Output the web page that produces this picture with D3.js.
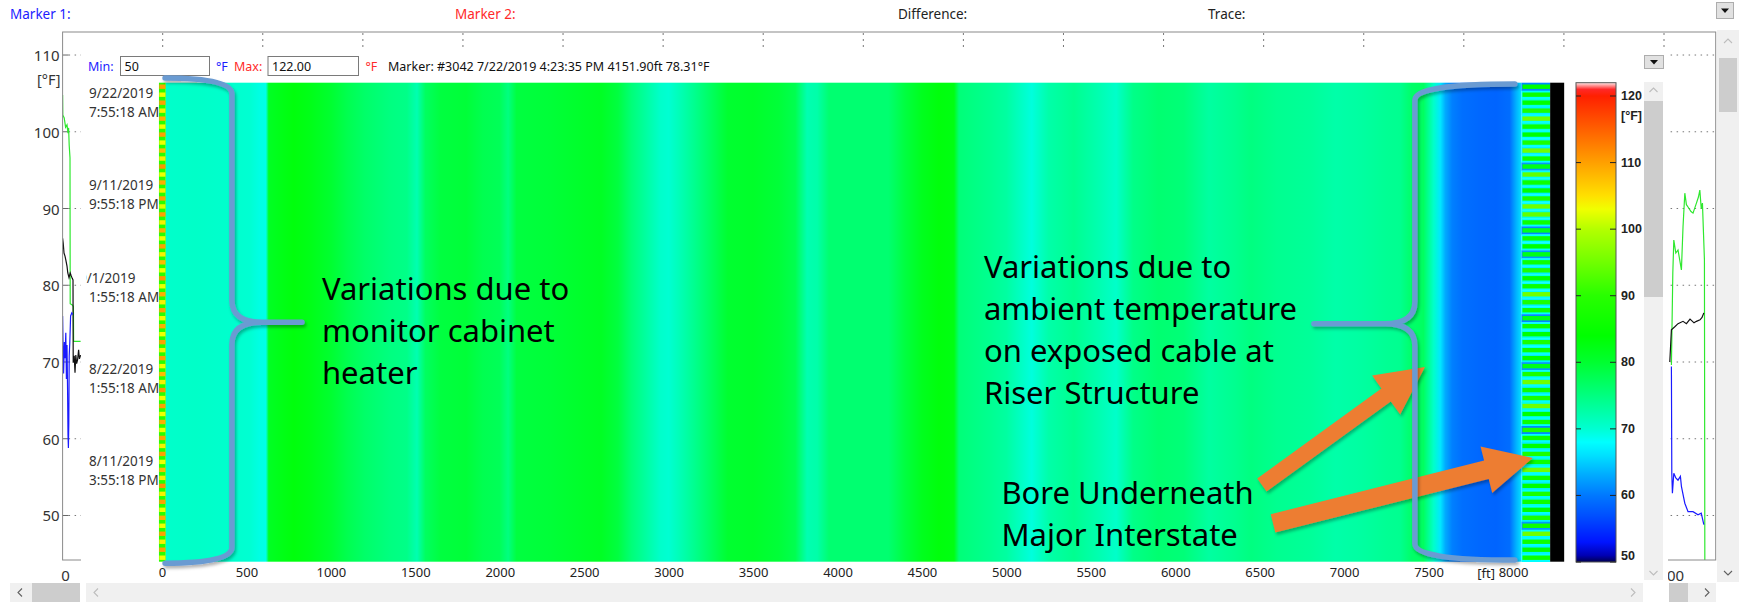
<!DOCTYPE html>
<html>
<head>
<meta charset="utf-8">
<title>Temperature map</title>
<script src="https://cdnjs.cloudflare.com/ajax/libs/d3/7.8.5/d3.min.js"></script>
<style>
    html, body { margin: 0; padding: 0; background: #ffffff; overflow: hidden; }
    svg { display: block; }
</style>
</head>
<body>
<svg id="view" width="1739" height="603"></svg>
<script>

// Colour map (deg F -> colour), same for heat map and colour bar
var cmap_temps = [ 49.5, 51, 53, 57, 60, 63, 66, 68, 70, 75, 80, 84, 90, 95, 100, 103, 105, 110, 115, 120, 121, 122 ];
var cmap_colors = [ '#000050', '#0000b4', '#0014ff', '#0050ff', '#0078ff', '#00aaff', '#00e0ff', '#00ffff', '#00ffd2',
    '#00ff80', '#00ff30', '#00ff00', '#28ff00', '#70ff00', '#b4ff00', '#f0ff00', '#ffe000', '#ffa000', '#ff6000',
    '#ff2000', '#ff2828', '#ffe8e8' ];
var colorbar_ticks = [ 50, 60, 70, 80, 90, 100, 110, 120 ];

// Heat map: temperature along the cable (ft -> deg F)
var profile_ft = [ 20, 200, 400, 520, 580, 615, 632, 700, 780, 880, 1000, 1100, 1200, 1350, 1450, 1510, 1560,
    1650, 1800, 1900, 2000, 2050, 2100, 2300, 2500, 2600, 2700, 2780, 2850, 2950, 3000, 3060, 3150, 3250, 3350,
    3500, 3650, 3750, 3820, 3880, 3950, 4100, 4300, 4400, 4500, 4600, 4690, 4720, 4780, 4900, 5000, 5150, 5250,
    5400, 5550, 5650, 5750, 5900, 6050, 6200, 6350, 6450, 6600, 6800, 6950, 7100, 7250, 7330, 7400, 7470, 7530,
    7570, 7600, 7640, 7700, 7800, 7900, 7980, 8020, 8050 ];
var profile_temp = [ 70.4, 70.6, 70.3, 70, 69.2, 69, 81, 82, 83, 82, 80, 78, 76.5, 75, 74.5, 72, 77,
    79, 79.5, 78, 77.5, 75, 79, 79.5, 80.5, 81, 79, 75.5, 73.5, 70.5, 70, 71.5, 74, 77, 80,
    80.5, 79.5, 78, 72, 72.5, 76, 76, 76, 79, 81.5, 83, 82.5, 75.5, 75, 74, 73, 69.5, 72.5,
    74, 72, 70.5, 74.5, 76, 75.5, 73, 74, 75, 74, 73.5, 72.5, 73, 73.8, 74, 76.5, 77, 70.5,
    66.5, 63, 60.5, 59.3, 58.8, 58.5, 59.2, 63.5, 66 ];

// Lead-in section at the start of the cable, one value per time row
var lead_base = 90;
var lead_stripe = [ 110, 103, 110, 104, 109, 103, 110, 103, 108, 104,
    111, 103, 109, 104, 110, 102, 110, 104, 109, 103,
    110, 104, 108, 103, 111, 103, 109, 104, 110, 103,
    109, 103, 110, 104, 110, 103, 108, 104, 111, 103,
    110, 103, 109, 103, 110, 104, 110, 103, 108, 104,
    111, 104, 110, 103, 109, 103, 110, 104, 110, 103 ];

// Bore section at the end of the cable, one value per time row
var bore_stripe = [ 84, 86, 84, 88, 95, 86, 84, 88, 95, 86,
    82, 94, 86, 84, 88, 95, 94, 86, 82, 86,
    84, 82, 86, 88, 84, 86, 95, 88, 86, 82,
    86, 84, 88, 86, 84, 82, 88, 95, 86, 88,
    95, 84, 86, 88, 86, 84, 88, 86, 95, 86,
    84, 88, 86, 84, 88, 86, 95, 86, 84, 86 ];
var bore_gap = [ 61, 68, 69, 67, 68, 69, 68, 68, 67, 68,
    62, 68, 69, 67, 68, 68, 69, 68, 61, 68,
    68, 62, 68, 67, 69, 68, 68, 67, 68, 61,
    68, 69, 68, 68, 67, 62, 68, 68, 67, 68,
    69, 68, 68, 61, 68, 67, 68, 69, 68, 68,
    67, 68, 69, 68, 67, 62, 68, 68, 67, 68 ];

var distance_ticks = [ 0, 500, 1000, 1500, 2000, 2500, 3000, 3500, 4000, 4500, 5000, 5500, 6000, 6500, 7000, 7500, 8000 ];
var time_dates = [ '9/22/2019', '9/11/2019', '9/1/2019', '8/22/2019', '8/11/2019' ];
var time_clock = [ '7:55:18 AM', '9:55:18 PM', '1:55:18 AM', '1:55:18 AM', '3:55:18 PM' ];
var time_rows = [ 2.44, 14.0, 25.6, 37.1, 48.6 ];

// Trace chart behind the map (ft -> deg F)
var trace_ticks = [ 50, 60, 70, 80, 90, 100, 110 ];
var green_left = [ [ 0, 104.8 ], [ 1, 102.2 ], [ 8, 101.8 ], [ 15, 100.6 ], [ 22, 100.9 ], [ 27, 99.8 ], [ 30, 100.5 ],
    [ 33, 98.2 ], [ 37, 96.6 ], [ 38, 77.6 ], [ 50, 77.4 ], [ 54, 77.2 ], [ 55, 72.7 ], [ 90, 72.7 ] ];
var black_left = [ [ 0, 86.1 ], [ 3, 85.5 ], [ 7, 84.2 ], [ 12, 83.8 ], [ 16, 83.3 ], [ 22, 82.5 ], [ 26, 81.6 ],
    [ 32, 81 ], [ 38, 81.6 ], [ 42, 81.3 ], [ 48, 80.9 ], [ 52, 80.7 ], [ 53, 69.9 ], [ 58, 70.8 ], [ 62, 68.6 ],
    [ 66, 70.9 ], [ 70, 69.8 ], [ 75, 70.3 ], [ 80, 71.6 ], [ 84, 70.4 ], [ 90, 70.9 ] ];
var blue_left = [ [ 0, 76 ], [ 2, 72.5 ], [ 5, 68.5 ], [ 9, 72.6 ], [ 12, 70.5 ], [ 16, 73.8 ], [ 19, 67.8 ],
    [ 22, 72.2 ], [ 25, 66 ], [ 27, 60.5 ], [ 29, 58.8 ], [ 31, 62 ], [ 33, 70.8 ], [ 36, 72.5 ], [ 40, 76 ],
    [ 46, 76.4 ], [ 50, 76.2 ] ];
var green_right = [ [ 8037, 69.6 ], [ 8039, 72.9 ], [ 8044, 81.6 ], [ 8049, 85.9 ], [ 8059, 84.2 ], [ 8070, 84.6 ],
    [ 8087, 82 ], [ 8095, 87.6 ], [ 8104, 92 ], [ 8112, 90.5 ], [ 8120, 90.2 ], [ 8135, 89.6 ], [ 8145, 89.4 ],
    [ 8162, 90.7 ], [ 8172, 91.5 ], [ 8179, 92.4 ], [ 8186, 90 ], [ 8192, 90.7 ], [ 8202, 83.3 ], [ 8204, 44 ] ];
var black_right = [ [ 8029, 70 ], [ 8037, 74.2 ], [ 8054, 74.6 ], [ 8070, 75 ], [ 8095, 75.3 ], [ 8112, 75 ],
    [ 8130, 75.6 ], [ 8150, 75.1 ], [ 8162, 75.3 ], [ 8180, 75.5 ], [ 8190, 75.8 ], [ 8199, 76.4 ] ];
var blue_right = [ [ 8037, 69.4 ], [ 8039, 55.5 ], [ 8042, 52.9 ], [ 8049, 55.5 ], [ 8059, 54.9 ], [ 8070, 54.6 ],
    [ 8082, 55.1 ], [ 8087, 53.8 ], [ 8104, 51.6 ], [ 8120, 50.5 ], [ 8145, 50.5 ], [ 8170, 50.1 ], [ 8186, 50.3 ],
    [ 8199, 48.8 ] ];

// Call-outs drawn on top of the map (ft, time row)
var braces = [
    { open: 18, spine: 414, tip: 829, top: -0.6, mid: 30, bottom: 60.2 },
    { open: 8011, spine: 7419, tip: 6821, top: 0.16, mid: 30.2, bottom: 59.8 }
];
var arrows = [
    { tail: [ 6513, 50.4 ], tip: [ 7479, 35.6 ], shaft: 16 },
    { tail: [ 6579, 55.2 ], tip: [ 8118, 47.0 ], shaft: 19 }
];
var notes = [
    { ft: 947, row: 27.2, lines: [ 'Variations due to', 'monitor cabinet', 'heater' ] },
    { ft: 4867, row: 24.5, lines: [ 'Variations due to', 'ambient temperature', 'on exposed cable at', 'Riser Structure' ] },
    { ft: 4971, row: 52.8, lines: [ 'Bore Underneath', 'Major Interstate' ] }
];

var ui_font = "'Noto Sans', sans-serif";
var row_count = lead_stripe.length;
var map_top = 82.7;
var map_bottom = 561.7;

var heat_x = d3.scaleLinear().domain( [ 0, 8000 ] ).range( [ 162, 1513 ] );
var heat_row = d3.scaleLinear().domain( [ 0, row_count ] ).range( [ map_top, map_bottom ] );
var row_band = d3.scaleBand().domain( d3.range( row_count ) ).range( [ map_top, map_bottom ] );
var stripe_band = d3.scaleBand().domain( d3.range( row_count ) ).range( [ map_top, map_bottom ] )
    .paddingInner( 0.45 ).paddingOuter( 0.225 );
var temp_color = d3.scaleLinear().domain( cmap_temps ).range( cmap_colors ).clamp( true );
var bar_y = d3.scaleLinear().domain( [ 50, 122 ] ).range( [ 562, map_top ] );
var trace_x = d3.scaleLinear().domain( [ 0, 8000 ] ).range( [ 62.6, 1664 ] );
var trace_y = d3.scaleLinear().domain( [ 44.2, 113 ] ).range( [ 560, 32 ] );

var svg = d3.select( '#view' );
var defs = svg.append( 'defs' );

svg.append( 'rect' ).attr( 'width', 1739 ).attr( 'height', 603 ).attr( 'fill', '#ffffff' );

draw_header();
draw_trace_chart();
draw_overlay();
draw_heatmap();
draw_colorbar();
draw_scrollbars();
draw_annotations();

function draw_header () {

    var header_labels = [ 'Marker 1:', 'Marker 2:', 'Difference:', 'Trace:' ];
    var header_x = [ 10, 455, 898, 1208 ];
    var header_fill = [ '#1c1cff', '#ff2a2a', '#222222', '#222222' ];

    svg.append( 'g' ).selectAll( 'text' )
        .data( header_labels )
        .join( 'text' )
        .attr( 'x', function ( d, i ) { return header_x[ i ]; } )
        .attr( 'y', 14 )
        .attr( 'dominant-baseline', 'central' )
        .attr( 'font-family', ui_font )
        .attr( 'font-size', 13.5 )
        .attr( 'fill', function ( d, i ) { return header_fill[ i ]; } )
        .text( function ( d ) { return d; } );

    dropdown( svg, 1716, 2, 17, 16 );

}

function draw_trace_chart () {

    var g = svg.append( 'g' );
    var left = trace_x.range()[ 0 ];
    var right = 1715.7;

    defs.append( 'clipPath' ).attr( 'id', 'trace-clip' )
        .append( 'rect' )
        .attr( 'x', left ).attr( 'y', 32 )
        .attr( 'width', right - left ).attr( 'height', 528 );

    // Dotted distance grid, only the top part shows above the map panel
    g.selectAll( '.vgrid' )
        .data( distance_ticks.slice( 1 ) )
        .join( 'line' )
        .attr( 'x1', function ( d ) { return trace_x( d ); } )
        .attr( 'x2', function ( d ) { return trace_x( d ); } )
        .attr( 'y1', 33 ).attr( 'y2', 52 )
        .attr( 'stroke', '#777777' )
        .attr( 'stroke-dasharray', '2,4' );

    g.selectAll( '.hgrid' )
        .data( trace_ticks )
        .join( 'line' )
        .attr( 'x1', left + 6 ).attr( 'x2', right )
        .attr( 'y1', function ( d ) { return trace_y( d ); } )
        .attr( 'y2', function ( d ) { return trace_y( d ); } )
        .attr( 'stroke', '#777777' )
        .attr( 'stroke-dasharray', '1.5,4.5' );

    g.selectAll( '.ytick' )
        .data( trace_ticks )
        .join( 'line' )
        .attr( 'x1', left ).attr( 'x2', left + 6 )
        .attr( 'y1', function ( d ) { return trace_y( d ); } )
        .attr( 'y2', function ( d ) { return trace_y( d ); } )
        .attr( 'stroke', '#666666' );

    g.selectAll( '.ylabel' )
        .data( trace_ticks )
        .join( 'text' )
        .attr( 'x', left - 3 )
        .attr( 'y', function ( d ) { return trace_y( d ); } )
        .attr( 'text-anchor', 'end' )
        .attr( 'dominant-baseline', 'central' )
        .attr( 'font-family', ui_font )
        .attr( 'font-size', 15 )
        .attr( 'fill', '#333333' )
        .text( function ( d ) { return d; } );

    g.append( 'text' )
        .attr( 'x', left - 2 ).attr( 'y', 79 )
        .attr( 'text-anchor', 'end' )
        .attr( 'dominant-baseline', 'central' )
        .attr( 'font-family', ui_font )
        .attr( 'font-size', 14.5 )
        .attr( 'fill', '#333333' )
        .text( '[°F]' );

    g.selectAll( '.xlabel' )
        .data( [ distance_ticks[ 0 ], distance_ticks[ distance_ticks.length - 1 ] ] )
        .join( 'text' )
        .attr( 'x', function ( d ) { return trace_x( d ) + 3; } )
        .attr( 'y', 575 )
        .attr( 'text-anchor', 'middle' )
        .attr( 'dominant-baseline', 'central' )
        .attr( 'font-family', ui_font )
        .attr( 'font-size', 15 )
        .attr( 'fill', '#333333' )
        .text( function ( d ) { return d; } );

    var line = d3.line()
        .x( function ( d ) { return trace_x( d[ 0 ] ); } )
        .y( function ( d ) { return trace_y( d[ 1 ] ); } );

    var series = [
        { data: green_left, color: '#2ee82e' }, { data: black_left, color: '#111111' }, { data: blue_left, color: '#1a1aff' },
        { data: green_right, color: '#2ee82e' }, { data: black_right, color: '#111111' }, { data: blue_right, color: '#1a1aff' }
    ];

    g.append( 'g' ).attr( 'clip-path', 'url(#trace-clip)' )
        .selectAll( 'path' )
        .data( series )
        .join( 'path' )
        .attr( 'd', function ( d ) { return line( d.data ); } )
        .attr( 'fill', 'none' )
        .attr( 'stroke', function ( d ) { return d.color; } )
        .attr( 'stroke-width', 1.2 );

    g.append( 'rect' )
        .attr( 'x', left ).attr( 'y', 32 )
        .attr( 'width', right - left ).attr( 'height', 528 )
        .attr( 'fill', 'none' )
        .attr( 'stroke', '#8a8a8a' );

}

function draw_overlay () {

    var g = svg.append( 'g' ).attr( 'font-family', ui_font ).attr( 'font-size', 12.5 );

    g.append( 'rect' )
        .attr( 'x', 81 ).attr( 'y', 50 )
        .attr( 'width', 1587 ).attr( 'height', 553 )
        .attr( 'fill', '#ffffff' );

    var label = function ( x, text, color ) {
        g.append( 'text' )
            .attr( 'x', x ).attr( 'y', 66 )
            .attr( 'dominant-baseline', 'central' )
            .attr( 'fill', color )
            .text( text );
    };

    var box = function ( x, w, value ) {
        g.append( 'rect' )
            .attr( 'x', x ).attr( 'y', 56.5 )
            .attr( 'width', w ).attr( 'height', 19 )
            .attr( 'fill', '#ffffff' )
            .attr( 'stroke', '#7a7a7a' );
        label( x + 4, value, '#111111' );
    };

    label( 88, 'Min:', '#1c1cff' );
    box( 120.5, 89, '50' );
    label( 216, '°F', '#1c1cff' );
    label( 234, 'Max:', '#ff2a2a' );
    box( 268, 90.5, '122.00' );
    label( 365.5, '°F', '#ff2a2a' );
    label( 388, 'Marker: #3042 7/22/2019 4:23:35 PM 4151.90ft 78.31°F', '#111111' );

    dropdown( g, 1644, 55, 19, 13 );

}

function draw_heatmap () {

    var g = svg.append( 'g' );
    var first = profile_ft[ 0 ];
    var last = profile_ft[ profile_ft.length - 1 ];
    var span = heat_x( last ) - heat_x( first );

    var grad = defs.append( 'linearGradient' )
        .attr( 'id', 'profile-grad' )
        .attr( 'gradientUnits', 'userSpaceOnUse' )
        .attr( 'x1', heat_x( first ) ).attr( 'x2', heat_x( last ) )
        .attr( 'y1', 0 ).attr( 'y2', 0 );

    grad.selectAll( 'stop' )
        .data( profile_ft )
        .join( 'stop' )
        .attr( 'offset', function ( d ) { return ( heat_x( d ) - heat_x( first ) ) / span; } )
        .attr( 'stop-color', function ( d, i ) { return temp_color( profile_temp[ i ] ); } );

    g.append( 'rect' )
        .attr( 'x', heat_x( 22 ) ).attr( 'y', map_top )
        .attr( 'width', heat_x( last ) - heat_x( 22 ) ).attr( 'height', map_bottom - map_top )
        .attr( 'fill', 'url(#profile-grad)' );

    // Lead-in section
    g.append( 'rect' )
        .attr( 'x', heat_x( -18 ) ).attr( 'y', map_top )
        .attr( 'width', heat_x( 22 ) - heat_x( -18 ) ).attr( 'height', map_bottom - map_top )
        .attr( 'fill', temp_color( lead_base ) );

    g.append( 'g' ).selectAll( 'rect' )
        .data( lead_stripe )
        .join( 'rect' )
        .attr( 'x', heat_x( -16 ) )
        .attr( 'y', function ( d, i ) { return stripe_band( i ); } )
        .attr( 'width', heat_x( 20 ) - heat_x( -16 ) )
        .attr( 'height', stripe_band.bandwidth() )
        .attr( 'fill', function ( d ) { return temp_color( d ); } );

    // Bore section
    g.append( 'g' ).selectAll( 'rect' )
        .data( bore_gap )
        .join( 'rect' )
        .attr( 'x', heat_x( last ) )
        .attr( 'y', function ( d, i ) { return row_band( i ); } )
        .attr( 'width', heat_x( 8220 ) - heat_x( last ) )
        .attr( 'height', row_band.bandwidth() + 0.3 )
        .attr( 'fill', function ( d ) { return temp_color( d ); } );

    g.append( 'g' ).selectAll( 'rect' )
        .data( bore_stripe )
        .join( 'rect' )
        .attr( 'x', heat_x( 8056 ) )
        .attr( 'y', function ( d, i ) { return stripe_band( i ); } )
        .attr( 'width', heat_x( 8220 ) - heat_x( 8056 ) )
        .attr( 'height', stripe_band.bandwidth() )
        .attr( 'fill', function ( d ) { return temp_color( d ); } );

    // No data past the cable end
    g.append( 'rect' )
        .attr( 'x', heat_x( 8220 ) ).attr( 'y', map_top )
        .attr( 'width', heat_x( 8303 ) - heat_x( 8220 ) ).attr( 'height', map_bottom - map_top )
        .attr( 'fill', '#000000' );

    // Distance axis
    var axis = g.append( 'g' )
        .attr( 'transform', 'translate(0,' + map_bottom + ')' )
        .call( d3.axisBottom( heat_x )
            .tickValues( distance_ticks )
            .tickFormat( d3.format( 'd' ) )
            .tickSize( 0 )
            .tickPadding( 6.5 ) );

    axis.select( '.domain' ).remove();
    axis.selectAll( 'text' )
        .attr( 'font-family', ui_font )
        .attr( 'font-size', 13 )
        .attr( 'fill', '#222222' );

    g.append( 'text' )
        .attr( 'x', heat_x( 8000 ) - 18 ).attr( 'y', 573 )
        .attr( 'text-anchor', 'end' )
        .attr( 'dominant-baseline', 'central' )
        .attr( 'font-family', ui_font )
        .attr( 'font-size', 13 )
        .attr( 'fill', '#222222' )
        .text( '[ft]' );

    // Time labels
    defs.append( 'clipPath' ).attr( 'id', 'time-clip' )
        .append( 'rect' ).attr( 'x', 86 ).attr( 'y', 50 ).attr( 'width', 80 ).attr( 'height', 520 );

    var labels = g.append( 'g' )
        .attr( 'clip-path', 'url(#time-clip)' )
        .attr( 'font-family', ui_font )
        .attr( 'font-size', 13.5 )
        .attr( 'fill', '#333333' );

    labels.selectAll( '.date' )
        .data( time_dates )
        .join( 'text' )
        .attr( 'x', function ( d, i ) { return i === 2 ? 79 : 89; } )
        .attr( 'y', function ( d, i ) { return heat_row( time_rows[ i ] ) - 9.5; } )
        .attr( 'dominant-baseline', 'central' )
        .text( function ( d ) { return d; } );

    labels.selectAll( '.clock' )
        .data( time_clock )
        .join( 'text' )
        .attr( 'x', 89 )
        .attr( 'y', function ( d, i ) { return heat_row( time_rows[ i ] ) + 9.5; } )
        .attr( 'dominant-baseline', 'central' )
        .text( function ( d ) { return d; } );

}

function draw_colorbar () {

    var g = svg.append( 'g' );
    var x0 = 1576;
    var w = 40;
    var lo = bar_y.domain()[ 0 ];
    var hi = bar_y.domain()[ 1 ];

    var grad = defs.append( 'linearGradient' )
        .attr( 'id', 'bar-grad' )
        .attr( 'gradientUnits', 'userSpaceOnUse' )
        .attr( 'x1', 0 ).attr( 'x2', 0 )
        .attr( 'y1', bar_y( lo ) ).attr( 'y2', bar_y( hi ) );

    grad.selectAll( 'stop' )
        .data( cmap_temps )
        .join( 'stop' )
        .attr( 'offset', function ( d ) { return Math.max( 0, ( d - lo ) / ( hi - lo ) ); } )
        .attr( 'stop-color', function ( d, i ) { return cmap_colors[ i ]; } );

    g.append( 'rect' )
        .attr( 'x', x0 ).attr( 'y', bar_y( hi ) )
        .attr( 'width', w ).attr( 'height', bar_y( lo ) - bar_y( hi ) )
        .attr( 'fill', 'url(#bar-grad)' )
        .attr( 'stroke', '#555555' );

    var ticks = g.selectAll( '.tick' )
        .data( colorbar_ticks )
        .join( 'g' )
        .attr( 'transform', function ( d ) { return 'translate(0,' + bar_y( d ) + ')'; } );

    ticks.append( 'line' ).attr( 'x1', x0 ).attr( 'x2', x0 + 5 ).attr( 'stroke', '#222222' );
    ticks.append( 'line' ).attr( 'x1', x0 + w - 6 ).attr( 'x2', x0 + w ).attr( 'stroke', '#222222' );

    ticks.append( 'text' )
        .attr( 'x', x0 + w + 5 )
        .attr( 'y', function ( d ) { return d === lo ? -6 : 0; } )
        .attr( 'dominant-baseline', 'central' )
        .attr( 'font-family', "'Liberation Sans', Arial, sans-serif" )
        .attr( 'font-weight', 'bold' )
        .attr( 'font-size', 12.5 )
        .attr( 'fill', '#222222' )
        .text( function ( d ) { return d; } );

    g.append( 'text' )
        .attr( 'x', x0 + w + 5 ).attr( 'y', 116 )
        .attr( 'dominant-baseline', 'central' )
        .attr( 'font-family', "'Liberation Sans', Arial, sans-serif" )
        .attr( 'font-weight', 'bold' )
        .attr( 'font-size', 12.5 )
        .attr( 'fill', '#222222' )
        .text( '[°F]' );

}

function draw_scrollbars () {

    var g = svg.append( 'g' );
    var track = '#f0f0f0';
    var thumb = '#cdcdcd';

    // Bottom bars
    bar( g, 10, 583, 70, 19, track );
    bar( g, 32, 583, 48, 19, thumb );
    chevron( g, 20, 592.5, 'left', '#606060' );

    bar( g, 86, 583, 1557, 19, track );
    chevron( g, 96, 592.5, 'left', '#bdbdbd' );
    chevron( g, 1633, 592.5, 'right', '#bdbdbd' );

    bar( g, 1669, 583, 47, 19, track );
    bar( g, 1669, 583, 19, 19, thumb );
    chevron( g, 1707, 592.5, 'right', '#606060' );

    // Vertical bar of the map panel
    bar( g, 1644, 82, 19, 498, track );
    bar( g, 1644, 101, 19, 196, thumb );
    chevron( g, 1653.5, 90, 'up', '#bdbdbd' );
    chevron( g, 1653.5, 573, 'down', '#bdbdbd' );

    // Outer vertical bar
    bar( g, 1717, 30, 22, 552, track );
    bar( g, 1719, 58, 18, 54, thumb );
    chevron( g, 1728, 41, 'up', '#bdbdbd' );
    chevron( g, 1728, 573, 'down', '#606060' );

}

function draw_annotations () {

    var g = svg.append( 'g' );

    var shadow = defs.append( 'filter' )
        .attr( 'id', 'soft-shadow' )
        .attr( 'x', '-20%' ).attr( 'y', '-20%' )
        .attr( 'width', '140%' ).attr( 'height', '140%' );

    shadow.append( 'feDropShadow' )
        .attr( 'dx', 1.5 ).attr( 'dy', 2.5 )
        .attr( 'stdDeviation', 1.8 )
        .attr( 'flood-color', '#000000' )
        .attr( 'flood-opacity', 0.3 );

    g.selectAll( '.arrow' )
        .data( arrows )
        .join( 'polygon' )
        .attr( 'points', function ( d ) { return arrow_points( d ).join( ' ' ); } )
        .attr( 'fill', '#ed7d31' )
        .attr( 'filter', 'url(#soft-shadow)' );

    g.selectAll( '.brace' )
        .data( braces )
        .join( 'path' )
        .attr( 'd', brace_path )
        .attr( 'fill', 'none' )
        .attr( 'stroke', '#6b9bd2' )
        .attr( 'stroke-width', 5.5 )
        .attr( 'stroke-linecap', 'round' )
        .attr( 'filter', 'url(#soft-shadow)' );

    var text = g.selectAll( '.note' )
        .data( notes )
        .join( 'text' )
        .attr( 'font-family', ui_font )
        .attr( 'font-size', 31 )
        .attr( 'fill', '#000000' );

    text.selectAll( 'tspan' )
        .data( function ( d ) {
            return d.lines.map( function ( line, i ) {
                return { text: line, x: heat_x( d.ft ), y: heat_row( d.row ) + i * 42 };
            } );
        } )
        .join( 'tspan' )
        .attr( 'x', function ( d ) { return d.x; } )
        .attr( 'y', function ( d ) { return d.y; } )
        .text( function ( d ) { return d.text; } );

}

function brace_path ( b ) {

    var xo = heat_x( b.open );
    var xs = heat_x( b.spine );
    var xt = heat_x( b.tip );
    var yt = heat_row( b.top );
    var ym = heat_row( b.mid );
    var yb = heat_row( b.bottom );
    var s = xt > xs ? 1 : -1;

    var p = d3.path();
    p.moveTo( xo, yt );
    p.quadraticCurveTo( xs, yt, xs, yt + 16 );
    p.lineTo( xs, ym - 22 );
    p.quadraticCurveTo( xs, ym, xs + s * 30, ym );
    p.lineTo( xt, ym );
    p.moveTo( xs + s * 30, ym );
    p.quadraticCurveTo( xs, ym, xs, ym + 22 );
    p.lineTo( xs, yb - 16 );
    p.quadraticCurveTo( xs, yb, xo, yb );
    return p.toString();

}

function arrow_points ( a ) {

    var x0 = heat_x( a.tail[ 0 ] );
    var y0 = heat_row( a.tail[ 1 ] );
    var x1 = heat_x( a.tip[ 0 ] );
    var y1 = heat_row( a.tip[ 1 ] );
    var len = Math.hypot( x1 - x0, y1 - y0 );
    var ux = ( x1 - x0 ) / len;
    var uy = ( y1 - y0 ) / len;
    var nx = -uy;
    var ny = ux;
    var base = len - 48;
    var sw = a.shaft / 2;
    var hw = 24;
    var bx = x0 + ux * base;
    var by = y0 + uy * base;

    return [
        [ x0 + nx * sw, y0 + ny * sw ],
        [ bx + nx * sw, by + ny * sw ],
        [ bx + nx * hw, by + ny * hw ],
        [ x1, y1 ],
        [ bx - nx * hw, by - ny * hw ],
        [ bx - nx * sw, by - ny * sw ],
        [ x0 - nx * sw, y0 - ny * sw ]
    ].map( function ( p ) { return p[ 0 ].toFixed( 1 ) + ',' + p[ 1 ].toFixed( 1 ); } );

}

function bar ( g, x, y, w, h, fill ) {

    g.append( 'rect' )
        .attr( 'x', x ).attr( 'y', y )
        .attr( 'width', w ).attr( 'height', h )
        .attr( 'fill', fill );

}

function chevron ( g, cx, cy, dir, color ) {

    var s = 4;
    var pts = {
        left: [ [ cx + s / 2, cy - s ], [ cx - s / 2, cy ], [ cx + s / 2, cy + s ] ],
        right: [ [ cx - s / 2, cy - s ], [ cx + s / 2, cy ], [ cx - s / 2, cy + s ] ],
        up: [ [ cx - s, cy + s / 2 ], [ cx, cy - s / 2 ], [ cx + s, cy + s / 2 ] ],
        down: [ [ cx - s, cy - s / 2 ], [ cx, cy + s / 2 ], [ cx + s, cy - s / 2 ] ]
    }[ dir ];

    g.append( 'path' )
        .attr( 'd', d3.line()( pts ) )
        .attr( 'fill', 'none' )
        .attr( 'stroke', color )
        .attr( 'stroke-width', 1.1 );

}

function dropdown ( g, x, y, w, h ) {

    g.append( 'rect' )
        .attr( 'x', x + 0.5 ).attr( 'y', y + 0.5 )
        .attr( 'width', w ).attr( 'height', h )
        .attr( 'fill', '#e1e1e1' )
        .attr( 'stroke', '#adadad' );

    var cx = x + w / 2 + 0.5;
    var cy = y + h / 2 + 0.5;

    g.append( 'path' )
        .attr( 'd', d3.line()( [ [ cx - 4, cy - 2 ], [ cx + 4, cy - 2 ], [ cx, cy + 2.5 ] ] ) + 'Z' )
        .attr( 'fill', '#111111' );

}

</script>
</body>
</html>
